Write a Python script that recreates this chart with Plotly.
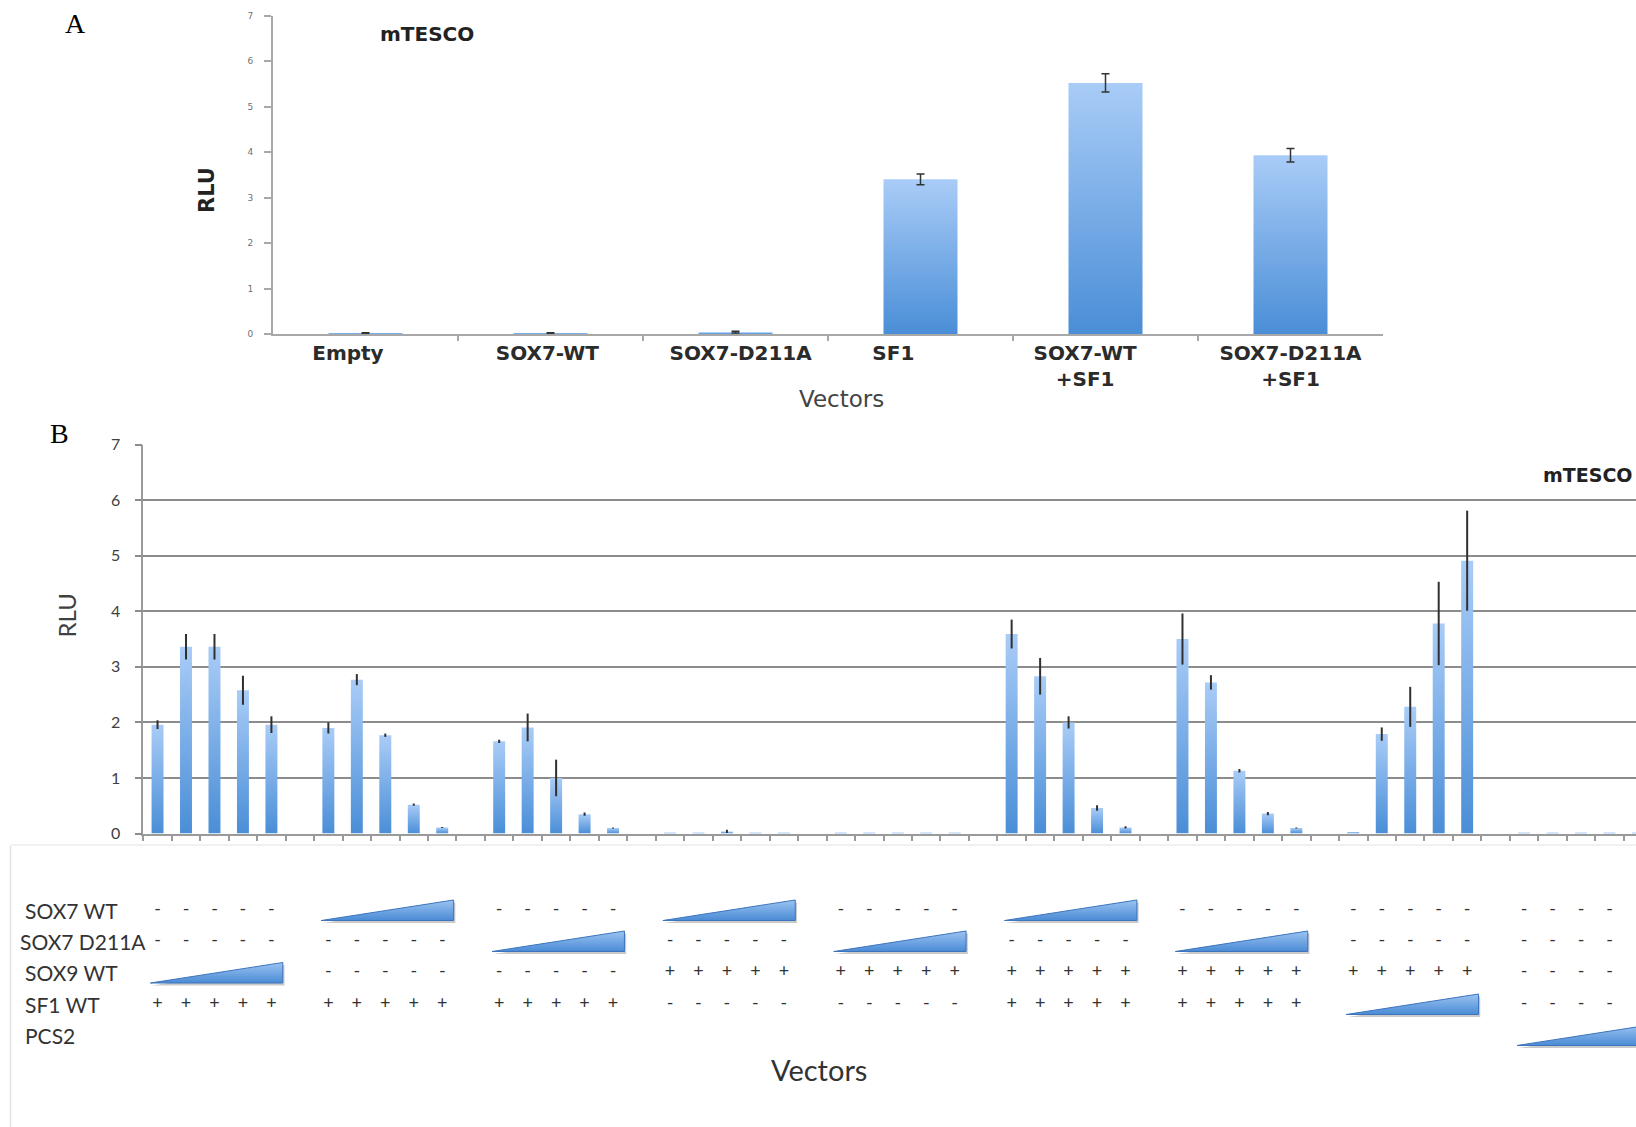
import plotly.graph_objects as go

# ---------------- data ----------------
a_categories = ["Empty", "SOX7-WT", "SOX7-D211A", "SF1", "SOX7-WT<br>+SF1", "SOX7-D211A<br>+SF1"]
a_values = [0.02, 0.02, 0.04, 3.40, 5.52, 3.93]
a_errors = [0.01, 0.01, 0.02, 0.12, 0.20, 0.15]
y_ticks = [0, 1, 2, 3, 4, 5, 6, 7]

# panel B: 9 groups x 5 doses
b_values = [
    [1.96, 3.36, 3.36, 2.58, 1.96],
    [1.90, 2.77, 1.77, 0.52, 0.11],
    [1.66, 1.91, 1.00, 0.35, 0.10],
    [0.02, 0.02, 0.04, 0.02, 0.02],
    [0.02, 0.02, 0.02, 0.02, 0.02],
    [3.59, 2.83, 2.00, 0.46, 0.11],
    [3.50, 2.72, 1.13, 0.36, 0.10],
    [0.03, 1.79, 2.28, 3.78, 4.91],
    [0.02, 0.02, 0.02, 0.02, 0.02],
]
b_errors = [
    [0.08, 0.23, 0.23, 0.26, 0.15],
    [0.10, 0.10, 0.03, 0.02, 0.01],
    [0.03, 0.25, 0.33, 0.03, 0.01],
    [0.00, 0.00, 0.03, 0.00, 0.00],
    [0.00, 0.00, 0.00, 0.00, 0.00],
    [0.26, 0.33, 0.11, 0.05, 0.02],
    [0.46, 0.13, 0.03, 0.03, 0.01],
    [0.00, 0.12, 0.36, 0.75, 0.90],
    [0.00, 0.00, 0.00, 0.00, 0.00],
]

table_rows = ["SOX7 WT", "SOX7 D211A", "SOX9 WT", "SF1 WT", "PCS2"]
# per group: "-" absent, "+" present, "W" increasing dose (wedge), "" nothing
table_spec = [
    ["-", "W", "-", "W", "-", "W", "-", "-", "-"],
    ["-", "-", "W", "-", "W", "-", "W", "-", "-"],
    ["W", "-", "-", "+", "+", "+", "+", "+", "-"],
    ["+", "+", "+", "-", "-", "+", "+", "W", "-"],
    ["", "", "", "", "", "", "", "", "W"],
]

# ---------------- layout helpers ----------------
W, H = 1636, 1127


def px(x):
    return x / W


def py(y):
    return 1 - y / H


BAR_SCALE = [[0, "#4a8ed7"], [1, "#a9ccf7"]]
WEDGE_SCALE = [[0, "#4a8bd5"], [1, "#9cc4f2"]]
N_PER_GROUP = 6
XB_MAX = 51.93
# horizontal nudges of the category labels of panel A (in category units, as laid out in the original)
A_LABEL_SHIFT = [-0.095, -0.017, 0.028, -0.147, -0.11, 0.0]
fig = go.Figure()

# ---------------- panel A ----------------
for i, v in enumerate(a_values):
    fig.add_trace(go.Scatter(
        x=[i - 0.2, i + 0.2], y=[v, v], xaxis="x", yaxis="y", mode="none",
        fill="tozeroy", fillgradient=dict(type="vertical", colorscale=BAR_SCALE, start=0, stop=v),
        hoverinfo="skip", showlegend=False))
fig.add_trace(go.Scatter(
    x=list(range(len(a_values))), y=a_values, xaxis="x", yaxis="y", mode="markers",
    marker=dict(size=1, opacity=0),
    error_y=dict(type="data", array=a_errors, color="#333333", thickness=1.5, width=4),
    hoverinfo="skip", showlegend=False))

# ---------------- panel B ----------------
bx, by, be = [], [], []
for g, grp in enumerate(b_values):
    for k, v in enumerate(grp):
        xi = g * N_PER_GROUP + k
        bx.append(xi)
        by.append(v)
        be.append(b_errors[g][k])
        fig.add_trace(go.Scatter(
            x=[xi - 0.21, xi + 0.21], y=[v, v], xaxis="x2", yaxis="y2", mode="none",
            fill="tozeroy", fillgradient=dict(type="vertical", colorscale=BAR_SCALE, start=0, stop=v),
            hoverinfo="skip", showlegend=False))
fig.add_trace(go.Scatter(
    x=bx, y=by, xaxis="x2", yaxis="y2", mode="markers", marker=dict(size=1, opacity=0),
    error_y=dict(type="data", array=be, color="#303030", thickness=2, width=0),
    hoverinfo="skip", showlegend=False))

# ---------------- table under panel B ----------------
row_y = [910, 941, 972.5, 1004, 1035]
tx, ty, tt = [], [], []
for r, spec in enumerate(table_spec):
    for g, kind in enumerate(spec):
        x0 = g * N_PER_GROUP
        if kind in ("+", "-"):
            for k in range(5):
                if x0 + k > XB_MAX - 0.3:   # beyond the visible (cropped) window
                    continue
                tx.append(x0 + k)
                ty.append(row_y[r])
                tt.append(kind)
        elif kind == "W":
            xl, xr = x0 - 0.25, x0 + 4.4
            yb, yt = row_y[r] + 10.5, row_y[r] - 10
            fig.add_trace(go.Scatter(
                x=[xl + 0.06, xr + 0.06, xr + 0.06, xl + 0.06], y=[yb + 2.5, yb + 2.5, yt + 2.5, yb + 2.5],
                xaxis="x2", yaxis="y3", mode="none", fill="toself",
                fillcolor="rgba(80,80,80,0.30)", hoverinfo="skip", showlegend=False))
            fig.add_trace(go.Scatter(
                x=[xl, xr, xr, xl], y=[yb, yb, yt, yb], xaxis="x2", yaxis="y3",
                mode="lines", line=dict(color="#3d74bd", width=1), fill="toself",
                fillgradient=dict(type="vertical", colorscale=WEDGE_SCALE, start=yb, stop=yt),
                hoverinfo="skip", showlegend=False))
fig.add_trace(go.Scatter(
    x=tx, y=ty, text=tt, xaxis="x2", yaxis="y3", mode="text",
    textfont=dict(family="Lato", size=18, color="#333333"),
    hoverinfo="skip", showlegend=False))

annotations = []
label_x = [23, 18, 23, 23, 23]
for r, name in enumerate(table_rows):
    annotations.append(dict(x=px(label_x[r]), y=row_y[r], xref="paper", yref="y3", text=name,
                            showarrow=False, xanchor="left", yanchor="middle",
                            font=dict(family="Lato", size=21, color="#333333")))

annotations += [
    dict(x=px(75), y=py(23), xref="paper", yref="paper", text="A", showarrow=False,
         xanchor="center", yanchor="middle", font=dict(family="Liberation Serif", size=28, color="#000")),
    dict(x=px(59.5), y=py(433), xref="paper", yref="paper", text="B", showarrow=False,
         xanchor="center", yanchor="middle", font=dict(family="Liberation Serif", size=28, color="#000")),
    dict(x=px(378), y=py(34), xref="paper", yref="paper", text="mTESCO", showarrow=False,
         xanchor="left", yanchor="middle",
         font=dict(family="DejaVu Sans", size=20, color="#222", weight="bold")),
    dict(x=px(207), y=py(190), xref="paper", yref="paper", text="RLU", showarrow=False, textangle=-90,
         xanchor="center", yanchor="middle",
         font=dict(family="DejaVu Sans", size=21, color="#222", weight="bold")),
    dict(x=px(841), y=py(398.5), xref="paper", yref="paper", text="Vectors", showarrow=False,
         xanchor="center", yanchor="middle", font=dict(family="DejaVu Sans", size=23, color="#444")),
    dict(x=px(66), y=py(615.5), xref="paper", yref="paper", text="RLU", showarrow=False, textangle=-90,
         xanchor="center", yanchor="middle", font=dict(family="Lato", size=24, color="#404040")),
    dict(x=px(1635), y=py(475), xref="paper", yref="paper", text="mTESCO", showarrow=False,
         xanchor="right", yanchor="middle",
         font=dict(family="DejaVu Sans", size=19, color="#222", weight="bold")),
    dict(x=px(819), y=py(1069.5), xref="paper", yref="paper", text="Vectors", showarrow=False,
         xanchor="center", yanchor="middle", font=dict(family="Lato", size=29, color="#333")),
]

shapes = [
    dict(type="line", xref="paper", yref="paper", x0=px(10.5), x1=px(10.5), y0=py(846), y1=0,
         line=dict(color="#e2e2e2", width=1.5)),
    dict(type="line", xref="paper", yref="paper", x0=px(10.5), x1=1, y0=py(845), y1=py(845),
         line=dict(color="#ececec", width=1.5)),
]

AXC = "#a8a8a8"
fig.update_layout(
    width=W, height=H, margin=dict(l=0, r=0, t=0, b=0, autoexpand=False),
    paper_bgcolor="white", plot_bgcolor="white", showlegend=False,
    font=dict(family="Lato", color="#333"),
    xaxis=dict(domain=[px(273), px(1383)], range=[-0.5, 5.5], anchor="y", automargin=False,
               tickmode="array", tickvals=[i + s for i, s in enumerate(A_LABEL_SHIFT)], ticktext=a_categories,
               ticks="", showline=True, linecolor=AXC, linewidth=2, showgrid=False, zeroline=False,
               tickfont=dict(family="DejaVu Sans", size=20, color="#2b2b2b", weight="bold"),
               minor=dict(tickmode="array", tickvals=[i + 0.5 for i in range(len(a_categories) - 1)],
                          ticks="outside", ticklen=5, tickcolor=AXC, tickwidth=1.5, showgrid=False),
               fixedrange=True),
    yaxis=dict(domain=[py(334), py(15.6)], range=[0, 7], anchor="x", automargin=False,
               tickmode="array", tickvals=y_ticks,
               ticks="outside", ticklen=7, tickcolor=AXC, tickwidth=1.5, showline=True, linecolor=AXC,
               linewidth=2, showgrid=False, zeroline=False, ticklabelstandoff=9,
               tickfont=dict(family="DejaVu Sans", size=9, color="#707070"), fixedrange=True),
    xaxis2=dict(domain=[px(143.3), 1], range=[-0.5, XB_MAX], anchor="y2", automargin=False,
                tickmode="linear", tick0=0.5,
                dtick=1, ticks="outside", ticklen=6, tickcolor="#9a9a9a", tickwidth=1.5,
                showticklabels=False, showline=True, linecolor="#9a9a9a", linewidth=1.5,
                showgrid=False, zeroline=False, fixedrange=True),
    yaxis2=dict(domain=[py(833.6), py(444.5)], range=[0, 7], anchor="x2", automargin=False,
                tickmode="array", tickvals=y_ticks,
                ticks="outside", ticklen=7, tickcolor="#8c8c8c", tickwidth=1.5, showgrid=True,
                gridcolor="#8c8c8c", gridwidth=1.5, showline=True, linecolor="#9a9a9a", linewidth=1.5,
                zeroline=False, ticklabelstandoff=11,
                tickfont=dict(family="Lato", size=16, color="#404040"), fixedrange=True),
    yaxis3=dict(domain=[0, 0.25], range=[H, H * 0.75], anchor="x2", visible=False, automargin=False,
                fixedrange=True),
    annotations=annotations, shapes=shapes,
)

fig.write_html(
    "out.html",
    config={"displayModeBar": False},
    post_script="document.body.style.margin='0';document.body.style.overflow='hidden';",
)
